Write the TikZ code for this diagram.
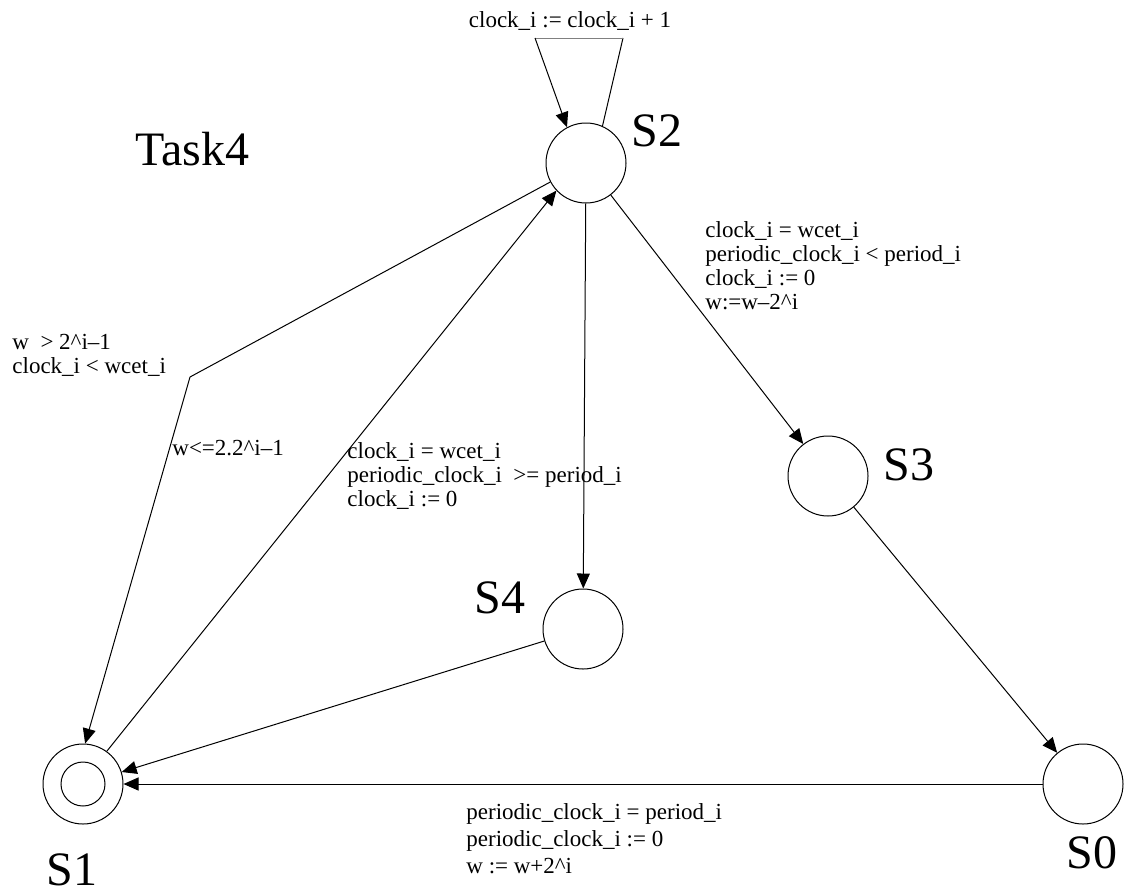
\documentclass[tikz,border=0pt]{standalone}
\usepackage{fontspec}
\setmainfont{Liberation Serif}
\usetikzlibrary{arrows.meta}

\begin{document}
\begin{tikzpicture}[x=0.5pt,y=-0.5pt]

\tikzset{
  state/.style={circle, draw=black, line width=0.5pt, fill=white, minimum size=40pt, inner sep=0pt},
  accept/.style={circle, draw=black, line width=0.5pt, minimum size=22pt, inner sep=0pt},
  statename/.style={inner sep=0pt, font=\fontsize{24}{28}\selectfont},
  guard/.style={inner sep=0pt, align=left, anchor=north west, font=\fontsize{11.5}{12}\selectfont},
  edge/.style={line width=0.5pt},
  arr/.style={edge, -{Triangle[length=7.5pt, width=6.5pt]}}
}

\useasboundingbox (0,0) rectangle (1133,894);

% states
\node[state] (s2) at (586,163) {};
\node[state] (s3) at (828,476) {};
\node[state] (s4) at (583,629) {};
\node[state] (s0) at (1083,784) {};
\node[state] (s1) at (83,784) {};
\node[accept] (s1in) at (s1) {};

\node[statename] (s2name) at (657,131) {S2};
\node[statename] (s3name) at (909,465) {S3};
\node[statename] (s4name) at (500,598) {S4};
\node[statename] (s0name) at (1092,853) {S0};
\node[statename] (s1name) at (72,870) {S1};
\node[statename] (taskname) at (192,149) {Task4};

% bend points
\coordinate (loopl) at (535,38);
\coordinate (loopr) at (623,38);
\coordinate (wbend) at (190,377);

% transitions
\draw[edge] (s2.66) -- (loopr);
\draw[edge, gray] (loopr) -- (loopl);
\draw[arr] (loopl) -- (s2.118);

\draw[edge] (s2.208) -- (wbend);
\draw[arr] (wbend) -- (s1.87);
\draw[arr] (s1.54) -- (s2.223);
\draw[arr] (s2) -- (s4);
\draw[arr] (s2) -- (s3);
\draw[arr] (s3) -- (s0);
\draw[arr] (s4) -- (s1);
\draw[arr] (s0.west) -- (s1.east);

% guards and updates
\node[guard, anchor=center] (looplabel) at (570,21) {clock\_i := clock\_i + 1};
\node[guard] (overlabel) at (12,334) {w \ > 2\^{}i--1\\clock\_i < wcet\_i};
\node[guard] (backlabel) at (172,440) {w<=2.2\^{}i--1};
\node[guard] (downlabel) at (347,442) {clock\_i = wcet\_i\\periodic\_clock\_i \ >= period\_i\\clock\_i := 0};
\node[guard] (rightlabel) at (705,221) {clock\_i = wcet\_i\\periodic\_clock\_i < period\_i\\clock\_i := 0\\w:=w--2\^{}i};
\node[guard, font=\fontsize{11.5}{13.5}\selectfont] (resetlabel) at (466,803) {periodic\_clock\_i = period\_i\\periodic\_clock\_i := 0\\w := w+2\^{}i};

\end{tikzpicture}
\end{document}
